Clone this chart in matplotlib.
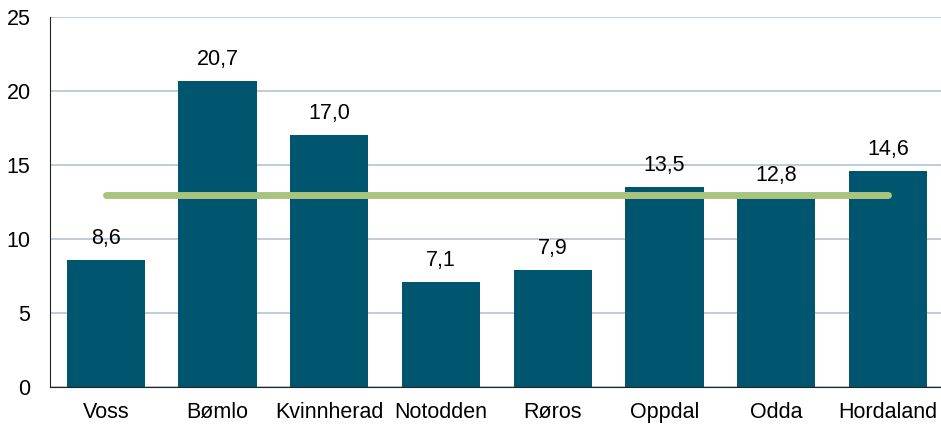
import matplotlib
matplotlib.use('Agg')
import matplotlib.pyplot as plt

steder = ['Voss', 'Bømlo', 'Kvinnherad', 'Notodden', 'Røros', 'Oppdal', 'Odda', 'Hordaland']
verdier = [8.6, 20.7, 17.0, 7.1, 7.9, 13.5, 12.8, 14.6]
snitt = 13.0  # gjennomsnitt (grønn linje)

plt.rcParams['font.family'] = ['Liberation Sans', 'DejaVu Sans']

fig = plt.figure(figsize=(9.41, 4.28), dpi=100)
ax = fig.add_axes([0.0531, 0.096, 0.950, 0.864])

x = list(range(len(steder)))
ax.bar(x, verdier, width=0.70, color='#00566f', zorder=2)

# verdietiketter over søylene
for xi, v in zip(x, verdier):
    ax.annotate(f'{v:.1f}'.replace('.', ','), (xi, v), xytext=(0, 8),
                textcoords='offset points', ha='center', va='bottom', fontsize=15.5)

# snittlinje fra første til siste kategori
ax.plot([x[0], x[-1]], [snitt, snitt], color='#a9c47f', lw=5,
        solid_capstyle='round', zorder=3)

ax.set_ylim(0, 25)
ax.set_xlim(-0.5, len(steder) - 0.5)
ax.set_yticks(range(0, 26, 5))
ax.set_xticks(x)
ax.set_xticklabels(steder)
ax.tick_params(axis='both', length=0, labelsize=15.5)
ax.tick_params(axis='y', pad=14)
ax.tick_params(axis='x', pad=11)

ax.yaxis.grid(True, color='#b4c3cc', lw=1.2, zorder=0)
ax.set_axisbelow(True)
for s in ['top', 'right']:
    ax.spines[s].set_visible(False)
ax.spines['left'].set_color('#222222')
ax.spines['bottom'].set_color('#222222')

fig.savefig('out.png', dpi=100)
